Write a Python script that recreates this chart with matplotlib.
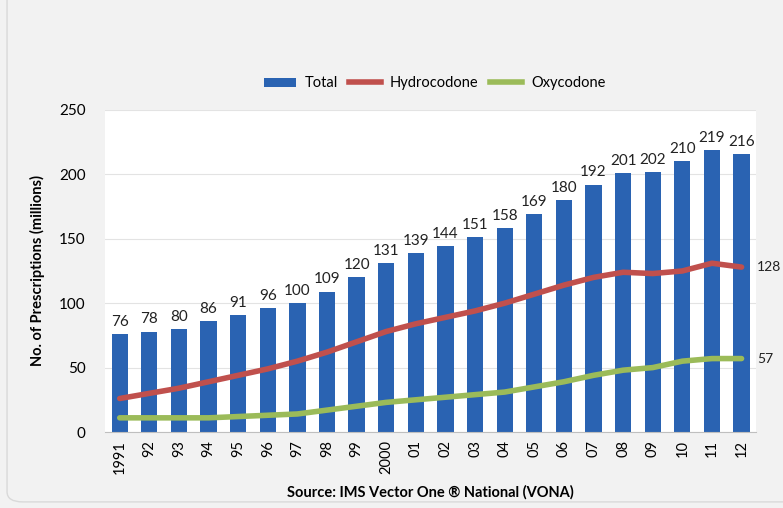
import matplotlib.pyplot as plt
import numpy as np
from matplotlib.patches import FancyBboxPatch, Patch
from matplotlib.lines import Line2D

plt.rcParams['font.family'] = ['Lato', 'DejaVu Sans']

# data
years = ["1991", "92", "93", "94", "95", "96", "97", "98", "99", "2000", "01",
         "02", "03", "04", "05", "06", "07", "08", "09", "10", "11", "12"]
total = [76, 78, 80, 86, 91, 96, 100, 109, 120, 131, 139,
         144, 151, 158, 169, 180, 192, 201, 202, 210, 219, 216]
hydrocodone = [26, 30, 34, 39, 44, 49, 55, 62, 70, 78, 84,
               89, 94, 100, 107, 114, 120, 124, 123, 125, 131, 128]
oxycodone = [11, 11, 11, 11, 12, 13, 14, 17, 20, 23, 25,
             27, 29, 31, 35, 39, 44, 48, 50, 55, 57, 57]

BLUE = "#2a63b2"
RED = "#c0504d"
GREEN = "#9bbb59"
BG = "#f2f2f2"

fig = plt.figure(figsize=(7.83, 5.08), dpi=100)
fig.patch.set_facecolor(BG)

# outer frame
frame = FancyBboxPatch((0.009, 0.012), 1.2, 1.1, boxstyle="round,pad=0,rounding_size=0.02",
                       transform=fig.transFigure, facecolor=BG, edgecolor="#d9d9d9",
                       linewidth=1.0, zorder=-5)
fig.patches.append(frame)

ax = fig.add_axes([0.134, 0.1496, 0.832, 0.634])
ax.set_facecolor("white")

x = np.arange(len(years))
ax.bar(x, total, width=0.55, color=BLUE, zorder=2)
ax.plot(x, hydrocodone, color=RED, linewidth=4, solid_capstyle="round",
        solid_joinstyle="round", zorder=3)
ax.plot(x, oxycodone, color=GREEN, linewidth=4, solid_capstyle="round",
        solid_joinstyle="round", zorder=3)

for xi, v in zip(x, total):
    ax.text(xi, v + 4, str(v), ha="center", va="bottom", fontsize=11, color="#222222")

ax.text(x[-1] + 0.52, hydrocodone[-1], str(hydrocodone[-1]), ha="left", va="center",
        fontsize=10, color="#222222", clip_on=False)
ax.text(x[-1] + 0.52, oxycodone[-1], str(oxycodone[-1]), ha="left", va="center",
        fontsize=10, color="#222222", clip_on=False)

ax.set_xlim(-0.5, len(years) - 0.5)
ax.set_ylim(0, 250)
ax.set_yticks(np.arange(0, 251, 50))
ax.set_xticks(x)
ax.set_xticklabels(years, rotation=90, fontsize=10.5)
ax.tick_params(axis="y", labelsize=11, length=0, pad=14)
ax.tick_params(axis="x", length=0, pad=6)
ax.grid(axis="y", color="#e3e3e3", linewidth=0.8, zorder=0)
ax.set_axisbelow(True)
for s in ["top", "right", "left"]:
    ax.spines[s].set_visible(False)
ax.spines["bottom"].set_color("#bfbfbf")

ax.set_ylabel("No. of Prescriptions (millions)", fontsize=10.5, fontweight="bold", labelpad=10)
ax.set_xlabel("Source: IMS Vector One \u00ae National (VONA)", fontsize=10.5,
              fontweight="bold", labelpad=8)

handles = [Patch(facecolor=BLUE, label="Total"),
           Line2D([0], [0], color=RED, linewidth=4, label="Hydrocodone"),
           Line2D([0], [0], color=GREEN, linewidth=4, label="Oxycodone")]
fig.legend(handles=handles, loc="center", bbox_to_anchor=(0.555, 0.836), ncol=3,
           frameon=False, fontsize=10.5, handlelength=2.2, handleheight=0.6,
           columnspacing=0.8, handletextpad=0.6)

plt.savefig("out.png", dpi=100, facecolor=BG)
